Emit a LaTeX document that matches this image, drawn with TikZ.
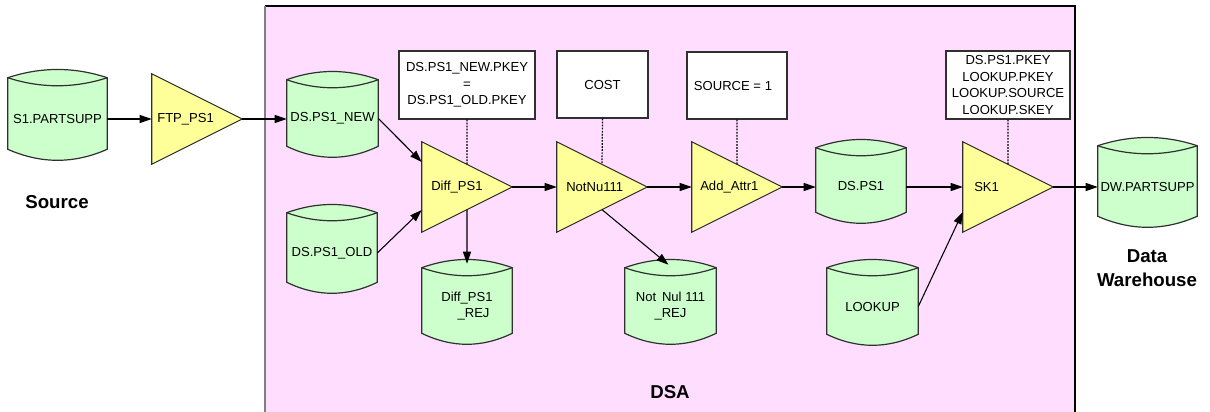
\documentclass[tikz,border=0pt]{standalone}
\usepackage{fontspec}
\setmainfont{Liberation Sans}
\usetikzlibrary{calc,arrows.meta}
\pgfdeclarelayer{back}
\pgfdeclarelayer{shp}
\pgfsetlayers{back,shp,main}
\definecolor{dsapink}{HTML}{FFDDFF}
\definecolor{cylgreen}{HTML}{CCFFCC}
\definecolor{triyellow}{HTML}{FFFF99}
\definecolor{edgegray}{HTML}{303030}
\tikzset{
  every node/.style={font=\fontsize{9.8}{12.5}\selectfont, inner sep=0pt},
  cylbox/.style 2 args={rectangle, minimum width=#1*0.75pt, minimum height=#2*0.75pt, align=center},
  tribox/.style={rectangle, minimum width=90*0.75pt, minimum height=90*0.75pt},
  notebox/.style 2 args={rectangle, draw=edgegray, fill=white, line width=0.8pt, minimum width=#1*0.75pt, minimum height=#2*0.75pt, align=center},
  cylfill/.style={fill=cylgreen, draw=edgegray, line width=0.9pt},
  cylline/.style={draw=edgegray, line width=0.9pt},
  trifill/.style={fill=triyellow, draw=edgegray, line width=0.8pt},
  conn/.style={draw=black, line width=0.8pt, -{Triangle[length=9pt,width=6pt]}},
  dotline/.style={draw=black, line width=0.9pt, dash pattern=on 1.3pt off 1pt},
  biglabel/.style={font=\fontsize{14}{17.5}\selectfont\bfseries, align=center},
}
\newcommand\cylpath[1]{%
  \begin{pgfonlayer}{shp}
  \path[cylfill] (#1.north west)
    .. controls ($(#1.north west)!0.3333!(#1.north east)+(0,-11)$) and ($(#1.north west)!0.6667!(#1.north east)+(0,-11)$) .. (#1.north east)
    -- ($(#1.south east)+(0,-11)$)
    .. controls ($(#1.south west)!0.6667!(#1.south east)+(0,3.7)$) and ($(#1.south west)!0.3333!(#1.south east)+(0,3.7)$) .. ($(#1.south west)+(0,-11)$)
    -- cycle;
  \draw[cylline] (#1.north west)
    .. controls ($(#1.north west)!0.3333!(#1.north east)+(0,10.7)$) and ($(#1.north west)!0.6667!(#1.north east)+(0,10.7)$) .. (#1.north east);
  \end{pgfonlayer}}
\newcommand\tripath[1]{%
  \begin{pgfonlayer}{shp}
  \path[trifill] (#1.north west) -- (#1.east) -- (#1.south west) -- cycle;
  \end{pgfonlayer}}
\begin{document}
\begin{tikzpicture}[x=0.75pt, y=-0.75pt]
\useasboundingbox (0,0) rectangle (1210,411);
% DSA area
\begin{pgfonlayer}{back}
  \fill[dsapink] (265,6) rectangle (1075,415);
  \draw[black, line width=0.8pt] (265,6) -- (1075,6) -- (1075,415);
  \draw[gray, line width=1.3pt] (265,6) -- (265,415);
\end{pgfonlayer}

% cylinders
\node[cylbox={99}{82}] (s1) at (57.5,119) {S1.PARTSUPP};
\node[cylbox={91}{77}] (dsnew) at (332.5,118.5) {DS.PS1\_NEW};
\node[cylbox={90}{80}] (dsold) at (332,253) {DS.PS1\_OLD};
\node[cylbox={90}{76}] (diffrej) at (467,306) {Diff\_PS1\\\quad\_REJ};
\node[cylbox={91}{76}] (notrej) at (670.5,306) {Not\, Nul 111\\\_REJ};
\node[cylbox={90}{75}] (dsps1) at (861,185.5) {DS.PS1};
\node[cylbox={91}{77}] (lookup) at (872.5,306.5) {LOOKUP};
\node[cylbox={99}{81}] (dw) at (1147.5,186.5) {DW.PARTSUPP};
\foreach \c in {s1,dsnew,dsold,diffrej,notrej,dsps1,lookup,dw} {\cylpath{\c}}

% triangles
\node[tribox] (ftp) at (197,119) {};
\node[tribox] (diff) at (467,187) {};
\node[tribox] (notnu) at (602,187) {};
\node[tribox] (add) at (737,187) {};
\node[tribox] (sk) at (1008,187) {};
\foreach \t in {ftp,diff,notnu,add,sk} {\tripath{\t}}
\node[anchor=west] (ftpt) at (157,119) {FTP\_PS1};
\node[anchor=west] (difft) at (431,187) {Diff\_PS1};
\node[anchor=west] (notnut) at (566,187) {NotNu111};
\node[anchor=west] (addt) at (700,187) {Add\_Attr1};
\node[anchor=west] (skt) at (974,187) {SK1};

% note boxes
\node[notebox={136}{68}] (b1) at (467,85) {DS.PS1\_NEW.PKEY\\=\\DS.PS1\_OLD.PKEY};
\node[notebox={91}{67}] (b2) at (602.5,84.5) {COST};
\node[notebox={100}{67}] (b3) at (737,85.5) {SOURCE = 1\hspace{6pt}};
\node[notebox={124}{68}] (b4) at (1008,85) {DS.PS1.PKEY\\LOOKUP.PKEY\\LOOKUP.SOURCE\\LOOKUP.SKEY};

% dotted links
\draw[dotline] (b1.south) -- ($(diff.north west)!0.5!(diff.east)$);
\draw[dotline] (b2.south) -- ($(notnu.north west)!0.5!(notnu.east)$);
\draw[dotline] (b3.south) -- ($(add.north west)!0.5!(add.east)$);
\draw[dotline] (b4.south) -- ($(sk.north west)!0.5!(sk.east)$);

% connectors
\draw[conn] (s1.east) -- (ftp.west);
\draw[conn] (ftp.east) -- (ftp.east -| dsnew.west);
\draw[conn] (dsnew.east) -- ($(diff.west)+(0,-25)$);
\draw[conn] (dsold.east) -- ($(diff.west)+(0,23)$);
\draw[conn] ($(diff.south west)!0.5!(diff.east)$) -- ($(diffrej.north)+(0,-4)$);
\draw[conn] (diff.east) -- (notnu.west);
\draw[conn] ($(notnu.south west)!0.5!(notnu.east)$) -- ($(notrej.north)+(-2,-3)$);
\draw[conn] (notnu.east) -- (add.west);
\draw[conn] (add.east) -- (add.east -| dsps1.west);
\draw[conn] (dsps1.east |- sk.west) -- (sk.west);
\draw[conn] (sk.east) -- (sk.east -| dw.west);
\draw[conn] (lookup.east) -- ($(sk.west)+(0,25)$);

% labels
\node[biglabel] (src) at (57,202) {Source};
\node[biglabel] (dsa) at (670,392) {DSA};
\node[biglabel] (dwl) at (1147,268) {Data\\Warehouse};
\end{tikzpicture}
\end{document}
